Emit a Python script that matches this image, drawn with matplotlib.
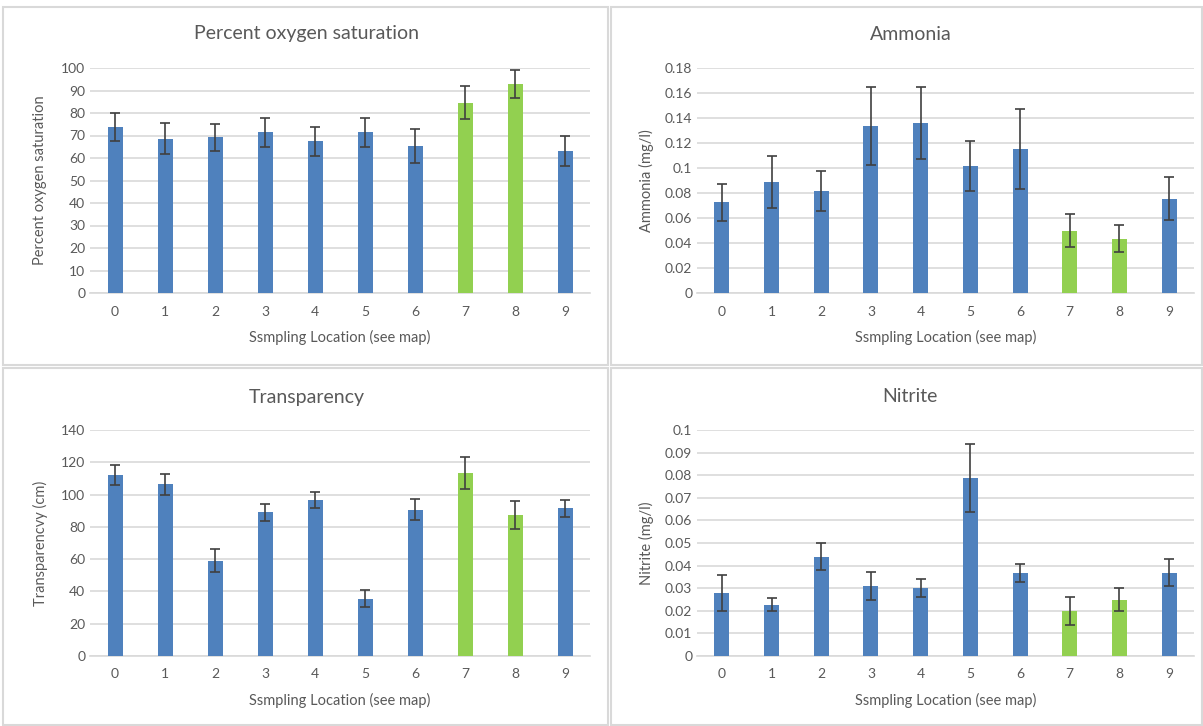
import matplotlib.pyplot as plt
from matplotlib.patches import Rectangle
from matplotlib.ticker import FuncFormatter
import numpy as np

plt.rcParams['font.family'] = ['Lato', 'DejaVu Sans']

locations = ['0', '1', '2', '3', '4', '5', '6', '7', '8', '9']

oxygen = [73.8, 68.5, 69.2, 71.4, 67.5, 71.4, 65.3, 84.6, 92.8, 63.2]
oxygen_err = [6.3, 6.9, 6.0, 6.4, 6.5, 6.6, 7.5, 7.4, 6.1, 6.8]

ammonia = [0.0726, 0.0887, 0.0815, 0.1335, 0.1362, 0.102, 0.1151, 0.050, 0.0435, 0.0756]
ammonia_err = [0.015, 0.021, 0.016, 0.031, 0.029, 0.020, 0.032, 0.013, 0.011, 0.017]

transparency = [112.0, 106.4, 59.0, 89.0, 96.5, 35.6, 90.7, 113.5, 87.4, 91.5]
transparency_err = [6.3, 6.5, 7.0, 5.2, 5.0, 5.3, 6.3, 9.8, 8.6, 5.3]

nitrite = [0.0277, 0.0227, 0.0439, 0.031, 0.030, 0.0789, 0.0369, 0.0199, 0.0249, 0.0369]
nitrite_err = [0.008, 0.003, 0.006, 0.006, 0.004, 0.015, 0.004, 0.006, 0.005, 0.006]

bar_colors = ['#4f81bd'] * 7 + ['#92d050'] * 2 + ['#4f81bd']
text_col = '#595959'
grid_col = '#d9d9d9'

W, H = 1203, 726
fig = plt.figure(figsize=(W / 100, H / 100), dpi=100)

# panel frames (pixel coords: x0, y0(top), x1, y1)
for x0, y0, x1, y1 in [(3, 7, 608, 365), (611, 7, 1202, 365),
                       (3, 368, 608, 725), (611, 368, 1202, 725)]:
    fig.patches.append(Rectangle((x0 / W, 1 - y1 / H), (x1 - x0) / W, (y1 - y0) / H,
                                 transform=fig.transFigure, fill=False,
                                 edgecolor=grid_col, linewidth=1.5))

panels = [
    ('Percent oxygen saturation', 'Percent oxygen saturation', oxygen, oxygen_err,
     np.arange(0, 101, 10), (90, 68, 590, 293), (307, 34), 40),
    ('Ammonia', 'Ammonia (mg/l)', ammonia, ammonia_err,
     np.arange(0, 0.181, 0.02), (697, 68, 1194, 293), (911, 34), 646),
    ('Transparency', 'Transparencvy (cm)', transparency, transparency_err,
     np.arange(0, 141, 20), (90, 430, 590, 656), (307, 397), 40),
    ('Nitrite', 'Nitrite (mg/l)', nitrite, nitrite_err,
     np.arange(0, 0.101, 0.01), (697, 430, 1194, 656), (910, 397), 646),
]

x = np.arange(len(locations))
for title, ylab, vals, errs, yt, (l, t, r, b), (tx, ty), ylx in panels:
    ax = fig.add_axes([l / W, 1 - b / H, (r - l) / W, (b - t) / H])
    ax.bar(x, vals, width=0.3, color=bar_colors, zorder=3)
    ax.errorbar(x, vals, yerr=errs, fmt='none', ecolor='#404040',
                elinewidth=1.2, capsize=3.5, capthick=1.2, zorder=4)
    ax.set_xlim(-0.5, 9.5)
    ax.set_ylim(0, yt[-1])
    ax.set_yticks(yt)
    ax.yaxis.set_major_formatter(FuncFormatter(lambda v, p: f'{round(v, 4):g}'))
    ax.set_xticks(x)
    ax.set_xticklabels(locations)
    ax.grid(axis='y', color=grid_col, linewidth=1.2, zorder=0)
    for s in ['top', 'right', 'left']:
        ax.spines[s].set_visible(False)
    ax.spines['bottom'].set_color(grid_col)
    ax.spines['bottom'].set_linewidth(1.2)
    ax.tick_params(length=0, colors=text_col, labelsize=10)
    ax.tick_params(axis='x', pad=9)
    ax.set_xlabel('Ssmpling Location (see map)', color=text_col, fontsize=10.5, labelpad=9)
    fig.text(ylx / W, 1 - (t + b) / 2 / H, ylab, rotation=90, ha='center', va='center',
             color=text_col, fontsize=10.5)
    fig.text(tx / W, 1 - ty / H, title, ha='center', va='center', color=text_col, fontsize=14)

fig.savefig('out.png', dpi=100)
